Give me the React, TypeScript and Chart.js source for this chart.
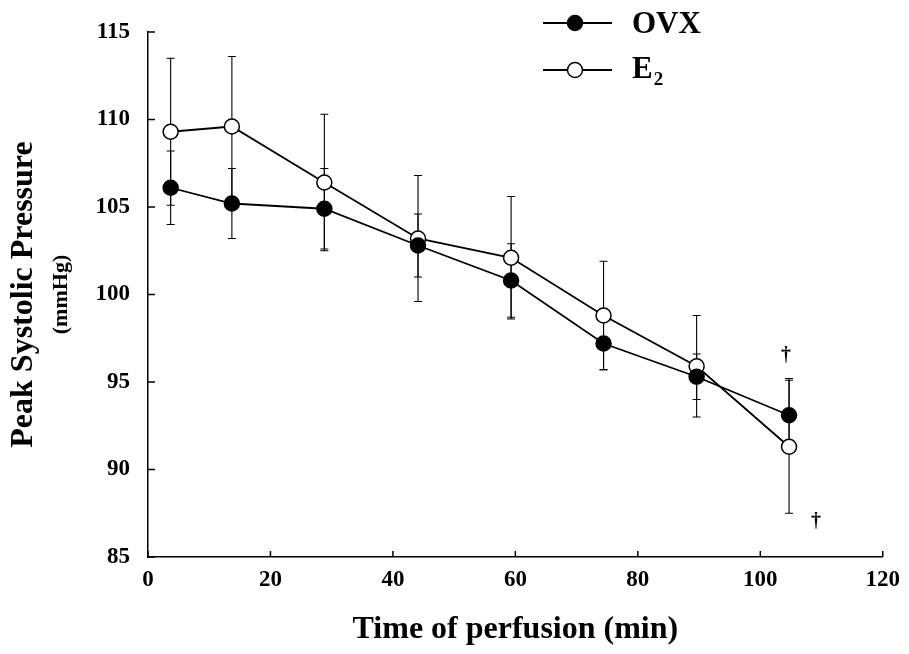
import React, { useEffect, useRef } from "react";
import { Chart, registerables } from "chart.js";

Chart.register(...registerables);

// ---- Data ----
const timeMin = [3.7, 13.7, 28.8, 44.1, 59.3, 74.4, 89.6, 104.7];
const ovxMean = [106.1, 105.2, 104.9, 102.8, 100.8, 97.2, 95.3, 93.1];
const ovxSem = [2.1, 2.0, 2.3, 1.8, 2.1, 1.5, 1.3, 2.1];
const e2Mean = [109.3, 109.6, 106.4, 103.2, 102.1, 98.8, 95.9, 91.3];
const e2Sem = [4.2, 4.0, 3.9, 3.6, 3.5, 3.1, 2.9, 3.8];
const xTickValues = [0, 20, 40, 60, 80, 100, 120];
const yTickValues = [85, 90, 95, 100, 105, 110, 115];
const daggerX = [104.2, 109.1];
const daggerY = [96.5, 87.0];

const FONT = "'Liberation Serif', 'Times New Roman', serif";

const errorBarPlugin = {
  id: "errorBars",
  beforeDatasetsDraw(chart: any) {
    const { ctx, scales } = chart;
    const xs = scales.x;
    const ys = scales.y;
    const groups = [
      { mean: ovxMean, sem: ovxSem },
      { mean: e2Mean, sem: e2Sem },
    ];
    ctx.save();
    ctx.strokeStyle = "#000";
    ctx.lineWidth = 1.1;
    groups.forEach((g) => {
      timeMin.forEach((t, i) => {
        const px = xs.getPixelForValue(t);
        const top = ys.getPixelForValue(g.mean[i] + g.sem[i]);
        const bot = ys.getPixelForValue(g.mean[i] - g.sem[i]);
        ctx.beginPath();
        ctx.moveTo(px, top);
        ctx.lineTo(px, bot);
        ctx.moveTo(px - 4, top);
        ctx.lineTo(px + 4, top);
        ctx.moveTo(px - 4, bot);
        ctx.lineTo(px + 4, bot);
        ctx.stroke();
      });
    });
    ctx.restore();
  },
};

const decorPlugin = {
  id: "decor",
  afterDraw(chart: any) {
    const { ctx, scales, chartArea } = chart;
    const xs = scales.x;
    const ys = scales.y;
    ctx.save();
    ctx.strokeStyle = "#000";
    ctx.lineWidth = 1.5;
    // inward tick marks
    yTickValues.forEach((v) => {
      const py = ys.getPixelForValue(v);
      ctx.beginPath();
      ctx.moveTo(chartArea.left, py);
      ctx.lineTo(chartArea.left + 7, py);
      ctx.stroke();
    });
    xTickValues.forEach((v) => {
      const px = xs.getPixelForValue(v);
      ctx.beginPath();
      ctx.moveTo(px, chartArea.bottom);
      ctx.lineTo(px, chartArea.bottom - 6);
      ctx.stroke();
    });
    // daggers
    ctx.fillStyle = "#000";
    ctx.font = `bold 20px ${FONT}`;
    ctx.textAlign = "center";
    ctx.textBaseline = "middle";
    daggerX.forEach((x, i) => {
      ctx.fillText("\u2020", xs.getPixelForValue(x), ys.getPixelForValue(daggerY[i]));
    });
    // y-axis unit line
    ctx.save();
    ctx.translate(61, (chartArea.top + chartArea.bottom) / 2);
    ctx.rotate(-Math.PI / 2);
    ctx.font = `bold 22px ${FONT}`;
    ctx.textAlign = "center";
    ctx.textBaseline = "middle";
    ctx.fillText("(mmHg)", 0, 0);
    ctx.restore();
    // legend
    const rows = [
      { y: 23, fill: "#000", label: "OVX", base: 33, sub: "" },
      { y: 70, fill: "#fff", label: "E", base: 78, sub: "2" },
    ];
    rows.forEach((r) => {
      ctx.lineWidth = 1.8;
      ctx.beginPath();
      ctx.moveTo(543, r.y);
      ctx.lineTo(612, r.y);
      ctx.stroke();
      ctx.beginPath();
      ctx.arc(575, r.y, 7.5, 0, Math.PI * 2);
      ctx.fillStyle = r.fill;
      ctx.fill();
      ctx.lineWidth = 1.5;
      ctx.stroke();
      ctx.fillStyle = "#000";
      ctx.font = `bold 31px ${FONT}`;
      ctx.textAlign = "left";
      ctx.textBaseline = "alphabetic";
      ctx.fillText(r.label, 632, r.base);
      if (r.sub) {
        const w = ctx.measureText(r.label).width;
        ctx.font = `bold 19px ${FONT}`;
        ctx.fillText(r.sub, 632 + w + 1, r.base + 7);
      }
    });
    ctx.restore();
  },
};

export default function App() {
  const ref = useRef<HTMLCanvasElement | null>(null);

  useEffect(() => {
    if (!ref.current) return;
    const chart = new Chart(ref.current, {
      type: "line",
      data: {
        datasets: [
          {
            label: "OVX",
            data: timeMin.map((t, i) => ({ x: t, y: ovxMean[i] })),
            borderColor: "#000",
            backgroundColor: "#000",
            borderWidth: 1.8,
            pointRadius: 7.5,
            pointBorderWidth: 1.5,
            pointBorderColor: "#000",
            pointBackgroundColor: "#000",
            tension: 0,
          },
          {
            label: "E2",
            data: timeMin.map((t, i) => ({ x: t, y: e2Mean[i] })),
            borderColor: "#000",
            backgroundColor: "#fff",
            borderWidth: 1.8,
            pointRadius: 7.5,
            pointBorderWidth: 1.5,
            pointBorderColor: "#000",
            pointBackgroundColor: "#fff",
            tension: 0,
          },
        ],
      },
      options: {
        animation: false,
        responsive: true,
        maintainAspectRatio: false,
        layout: { padding: { left: 0, top: 32, right: 24, bottom: 0 } },
        plugins: {
          legend: { display: false },
          tooltip: { enabled: false },
        },
        scales: {
          x: {
            type: "linear",
            min: 0,
            max: 120,
            afterFit: (s: any) => {
              s.height = 97;
            },
            afterBuildTicks: (s: any) => {
              s.ticks = xTickValues.map((v) => ({ value: v }));
            },
            grid: { display: false, drawTicks: false },
            border: { display: true, color: "#000", width: 1.5 },
            ticks: {
              color: "#000",
              padding: 9,
              maxRotation: 0,
              font: { family: FONT, size: 23, weight: "bold" },
            },
            title: {
              display: true,
              text: "Time of perfusion (min)",
              color: "#000",
              font: { family: FONT, size: 32, weight: "bold" },
              padding: { top: 0, bottom: 5 },
            },
          },
          y: {
            type: "linear",
            min: 85,
            max: 115,
            afterFit: (s: any) => {
              s.width = 148;
            },
            afterBuildTicks: (s: any) => {
              s.ticks = yTickValues.map((v) => ({ value: v }));
            },
            grid: { display: false, drawTicks: false },
            border: { display: true, color: "#000", width: 1.5 },
            ticks: {
              color: "#000",
              padding: 18,
              font: { family: FONT, size: 23, weight: "bold" },
            },
            title: {
              display: true,
              text: "Peak Systolic Pressure",
              color: "#000",
              font: { family: FONT, size: 32, weight: "bold" },
              padding: { top: 5, bottom: 0 },
            },
          },
        },
      },
      plugins: [errorBarPlugin, decorPlugin],
    });
    return () => chart.destroy();
  }, []);

  return (
    <div style={{ position: "absolute", left: 0, top: 0, width: 909, height: 654, background: "#fff" }}>
      <canvas ref={ref} />
    </div>
  );
}
